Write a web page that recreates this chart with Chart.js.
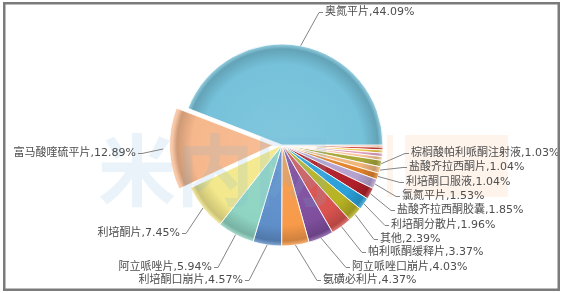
<!DOCTYPE html>
<html>
<head>
<meta charset="utf-8">
<script src="https://cdn.jsdelivr.net/npm/chart.js@4/dist/chart.umd.min.js"></script>
<style>
  html, body { margin: 0; padding: 0; background: #fff; }
  canvas { display: block; }
</style>
</head>
<body>
<canvas id="myChart" width="562" height="293"></canvas>
<script>
// shares of the market, largest first; the last five slivers carry no label in the picture
const drugs = ['奥氮平片', '富马酸喹硫平片', '利培酮片', '阿立哌唑片', '利培酮口崩片', '氨磺必利片',
    '阿立哌唑口崩片', '帕利哌酮缓释片', '其他', '利培酮分散片', '盐酸齐拉西酮胶囊', '氯氮平片',
    '利培酮口服液', '盐酸齐拉西酮片', '棕榈酸帕利哌酮注射液', '', '', '', '', ''];
const shares = [44.09, 12.89, 7.45, 5.94, 4.57, 4.37, 4.03, 3.37, 2.39, 1.96, 1.85, 1.53,
    1.04, 1.04, 1.03, 0.60, 0.55, 0.50, 0.45, 0.35];
const sliceColors = ['#76c2da', '#f6b78c', '#f3e88c', '#8fd4c2', '#5f8fca', '#f79a4a',
    '#7f4f9e', '#d9534f', '#b7b324', '#2a9fd8', '#b0202a', '#b5a2cf',
    '#e3842c', '#f0b67c', '#a9a83a', '#f8c49a', '#e2a2c0', '#efcb4a', '#d2433a', '#ef9a62'];

// label placement: [x, y, side] ; 'r' = text starts at x, 'l' = text ends at x
const labelSpots = [
    [325, 12, 'r'], [136, 153, 'l'], [180, 233, 'l'], [212, 267, 'l'], [243, 280, 'l'],
    [323, 280, 'r'], [352, 267, 'r'], [368, 252, 'r'], [380, 239, 'r'], [391, 225, 'r'],
    [397, 210, 'r'], [402, 196, 'r'], [406, 182, 'r'], [409, 167, 'r'], [411, 153, 'r'],
    null, null, null, null, null
];

const pieRadius = 101;
const explodedIndex = 1;
const explodePx = 18;

// Chart.js goes clockwise, the picture runs the other way from 3 o'clock
const order = drugs.map((d, i) => i).reverse();

function mix(hex, target, t) {
    const n = parseInt(hex.slice(1), 16);
    const rgb = [n >> 16, (n >> 8) & 255, n & 255].map(v => Math.round(v + (target - v) * t));
    return 'rgb(' + rgb.join(',') + ')';
}

function shade(context, color) {
    const area = context.chart.chartArea;
    if (!area) return color;
    const cx = (area.left + area.right) / 2;
    const cy = (area.top + area.bottom) / 2;
    const g = context.chart.ctx.createRadialGradient(cx, cy, 0, cx, cy, pieRadius);
    g.addColorStop(0, mix(color, 255, 0.08));
    g.addColorStop(0.8, color);
    g.addColorStop(0.95, mix(color, 0, 0.16));
    g.addColorStop(1, mix(color, 255, 0.25));
    return g;
}

const frame = {
    id: 'frame',
    afterDraw(chart) {
        const c = chart.ctx;
        c.save();
        c.strokeStyle = '#7b7b7b';
        c.lineWidth = 2.5;
        c.strokeRect(4.25, 3.25, 554.5, 286.5);
        c.restore();
    }
};

const watermark = {
    id: 'watermark',
    afterDatasetsDraw(chart) {
        const c = chart.ctx;
        c.save();
        c.font = 'bold 78px "Noto Sans CJK SC", sans-serif';
        c.textBaseline = 'alphabetic';
        c.fillStyle = 'rgba(120,180,220,0.16)';
        c.fillText('米内网', 98, 200);
        c.fillStyle = 'rgba(250,205,170,0.22)';
        c.fillRect(387, 135, 6, 62);
        c.fillRect(405, 135, 103, 62);
        c.restore();
    }
};

const leaders = {
    id: 'leaders',
    afterDatasetsDraw(chart) {
        const c = chart.ctx;
        const arcs = chart.getDatasetMeta(0).data;
        c.save();
        c.font = '11px "DejaVu Sans", "Noto Sans CJK SC", sans-serif';
        c.textBaseline = 'middle';
        c.strokeStyle = '#858585';
        c.lineWidth = 1;
        c.fillStyle = '#4d4d4d';
        arcs.forEach((arc, k) => {
            const i = order[k];
            const spot = labelSpots[i];
            if (!spot || !drugs[i]) return;
            const mid = (arc.startAngle + arc.endAngle) / 2;
            const r = arc.outerRadius + (i === explodedIndex ? explodePx : 0);
            const x0 = arc.x + Math.cos(mid) * r;
            const y0 = arc.y + Math.sin(mid) * r;
            const [tx, ty, side] = spot;
            const dir = side === 'r' ? -1 : 1;
            c.beginPath();
            c.moveTo(x0, y0);
            c.lineTo(tx + dir * 6, ty + 0.5);
            c.lineTo(tx + dir * 2, ty + 0.5);
            c.stroke();
            c.textAlign = side === 'r' ? 'left' : 'right';
            c.fillText(drugs[i] + ',' + shares[i].toFixed(2) + '%', tx, ty);
        });
        c.restore();
    }
};

const canvas = document.getElementById('myChart');
const ctx = canvas.getContext('2d');

const myChart = new Chart(ctx, {
    type: 'pie',
    data: {
        labels: order.map(i => drugs[i]),
        datasets: [{
            data: order.map(i => shares[i]),
            backgroundColor: c => shade(c, sliceColors[order[c.dataIndex]]),
            borderColor: 'rgba(255,255,255,0.85)',
            borderWidth: 1,
            // the arc element moves by half of its offset option
            offset: order.map(i => i === explodedIndex ? explodePx * 2 : 0)
        }]
    },
    options: {
        responsive: false,
        animation: false,
        events: [],
        rotation: 90,
        radius: pieRadius,
        layout: { padding: { left: 2, right: 0, top: 0, bottom: 3 } },
        plugins: {
            legend: { display: false },
            tooltip: { enabled: false }
        }
    },
    plugins: [frame, watermark, leaders]
});
</script>
</body>
</html>
